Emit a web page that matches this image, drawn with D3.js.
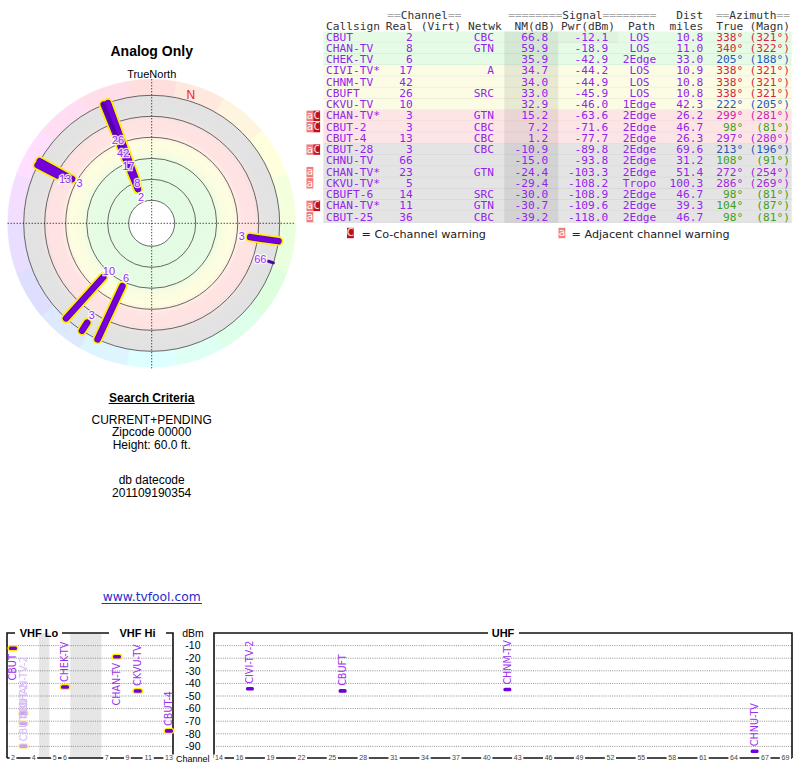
<!DOCTYPE html>
<html>
<head>
<meta charset="utf-8">
<title>Analog Only</title>
<script src="https://d3js.org/d3.v7.min.js"></script>
<style>
    body { margin: 0; background: #fff; }
</style>
</head>
<body>
<script>
    // station table
    const callsigns = ["CBUT", "CHAN-TV", "CHEK-TV", "CIVI-TV*", "CHNM-TV", "CBUFT", "CKVU-TV", "CHAN-TV*", "CBUT-2",
        "CBUT-4", "CBUT-28", "CHNU-TV", "CHAN-TV*", "CKVU-TV*", "CBUFT-6", "CHAN-TV*", "CBUT-25"];
    const realCh = [2, 8, 6, 17, 42, 26, 10, 3, 3, 13, 3, 66, 23, 5, 14, 11, 36];
    const netwk = ["CBC", "GTN", "", "A", "", "SRC", "", "GTN", "CBC", "CBC", "CBC", "", "GTN", "", "SRC", "GTN", "CBC"];
    const nm = [66.8, 59.9, 35.9, 34.7, 34.0, 33.0, 32.9, 15.2, 7.2, 1.2, -10.9, -15.0, -24.4, -29.4, -30.0, -30.7, -39.2];
    const pwr = [-12.1, -18.9, -42.9, -44.2, -44.9, -45.9, -46.0, -63.6, -71.6, -77.7, -89.8, -93.8, -103.3, -108.2, -108.9, -109.6, -118.0];
    const path = ["LOS", "LOS", "2Edge", "LOS", "LOS", "LOS", "1Edge", "2Edge", "2Edge", "2Edge", "2Edge", "2Edge", "2Edge", "Tropo", "2Edge", "2Edge", "2Edge"];
    const dist = [10.8, 11.0, 33.0, 10.9, 10.8, 10.8, 42.3, 26.2, 46.7, 26.3, 69.6, 31.2, 51.4, 100.3, 46.7, 39.3, 46.7];
    const azTrue = [338, 340, 205, 338, 338, 338, 222, 299, 98, 297, 213, 108, 272, 286, 98, 104, 98];
    const azMagn = [321, 322, 188, 321, 321, 321, 205, 281, 81, 280, 196, 91, 254, 269, 81, 87, 81];
    const warn = ["", "", "", "", "", "", "", "aC", "aC", "", "aC", "", "a", "a", "", "aC", "a"];
    const azGroup = ["red", "red", "blue", "red", "red", "red", "blue", "magenta", "green", "violet", "blue", "green",
        "violet", "violet", "green", "green", "green"];

    const vhfTicks = [2, 4, 5, 6, 7, 9, 11, 13];
    const uhfTicks = [14, 16, 19, 22, 25, 28, 31, 34, 37, 40, 43, 46, 49, 52, 55, 58, 61, 64, 67, 69];
    const dbmTicks = [-10, -20, -30, -40, -50, -60, -70, -80, -90];
    const ringLevels = [80, 60, 40, 20, 0, -20];

    const purple = "#9424ea";
    const azColors = {red: "#d02840", blue: "#1f58c0", magenta: "#cc1faa", green: "#3fa020", violet: "#a028d8"};
    const zoneColor = v => v >= 35 ? "#e6fbe6" : v >= 20 ? "#fbfce3" : v >= 0 ? "#fde5e5" : "#e4e4e4";

    const width = 800, height = 768;
    const svg = d3.select("body").append("svg")
        .attr("width", width)
        .attr("height", height)
        .style("font-family", "'Liberation Sans', Arial, sans-serif");
    const defs = svg.append("defs");

    // ---------------- radar plot ----------------
    const cx = 151.7, cy = 223.3;
    const r = d3.scaleLinear().domain([-20, 80]).range([128, 23]);
    const R = r(-20);
    const pt = (az, rad) => [cx + rad * Math.sin(az * Math.PI / 180), cy - rad * Math.cos(az * Math.PI / 180)];

    svg.append("text").attr("x", cx).attr("y", 56).attr("text-anchor", "middle")
        .style("font-size", "14px").style("font-weight", "bold").text("Analog Only");
    svg.append("text").attr("x", cx).attr("y", 77.5).attr("text-anchor", "middle")
        .style("font-size", "11px").text("TrueNorth");

    // outer compass ring
    const seg = d3.arc().innerRadius(R).outerRadius(R + 16);
    svg.append("g").attr("transform", `translate(${cx},${cy})`)
        .selectAll("path").data(d3.range(18)).join("path")
        .attr("d", k => seg({startAngle: (k * 20 - 10) * Math.PI / 180, endAngle: (k * 20 + 10) * Math.PI / 180}))
        .attr("fill", k => d3.hsl(k * 20, 1, 0.935).formatHex())
        .attr("stroke", k => d3.hsl(k * 20, 1, 0.935).formatHex())
        .attr("stroke-width", 0.5);

    const grad = defs.append("radialGradient").attr("id", "zones")
        .attr("gradientUnits", "userSpaceOnUse")
        .attr("cx", cx).attr("cy", cy).attr("r", R);
    [[80, "#e4fbe4"], [42, "#e6fce3"], [34, "#fbfde0"], [24, "#fefde0"], [16, "#ffe4e4"], [4, "#ffe2e2"],
        [-4, "#e3e3e3"], [-20, "#e2e2e2"]].forEach(s => {
        grad.append("stop").attr("offset", r(s[0]) / R).attr("stop-color", s[1]);
    });
    svg.append("circle").attr("cx", cx).attr("cy", cy).attr("r", R).attr("fill", "url(#zones)");

    svg.append("g").selectAll("circle").data(ringLevels).join("circle")
        .attr("cx", cx).attr("cy", cy).attr("r", d => r(d))
        .attr("fill", d => d === 80 ? "#fff" : "none")
        .attr("stroke", "#444").attr("stroke-width", 0.8);

    svg.append("line").attr("x1", cx - R - 16).attr("x2", cx + R + 16).attr("y1", cy).attr("y2", cy)
        .attr("stroke", "#000").attr("stroke-width", 1).attr("stroke-dasharray", "1,2");
    svg.append("line").attr("x1", cx).attr("x2", cx).attr("y1", cy - R - 16).attr("y2", cy + R + 17)
        .attr("stroke", "#000").attr("stroke-width", 1).attr("stroke-dasharray", "1,2");

    // magnetic north
    const nPos = pt(azTrue[0] - azMagn[0], R + 6);
    svg.append("text").attr("x", nPos[0]).attr("y", nPos[1]).attr("dy", "0.36em").attr("text-anchor", "middle")
        .style("font-size", "12px").attr("fill", "#ee2020").text("N");

    const shown = d3.range(callsigns.length).filter(i => nm[i] >= -20);
    const vhf = shown.filter(i => realCh[i] <= 13);
    const uhf = shown.filter(i => realCh[i] > 13);
    const barLine = (g, idx, color, w) => g.selectAll(null).data(idx).join("line")
        .attr("x1", i => pt(azTrue[i], r(nm[i]))[0]).attr("y1", i => pt(azTrue[i], r(nm[i]))[1])
        .attr("x2", i => pt(azTrue[i], R)[0]).attr("y2", i => pt(azTrue[i], R)[1])
        .attr("stroke", color).attr("stroke-width", w).attr("stroke-linecap", "round");

    const bars = svg.append("g");
    barLine(bars, vhf, "#ffee00", 10);
    barLine(bars, vhf, "#5a00b4", 6.5);
    barLine(bars, vhf, "#7400dc", 5);
    barLine(bars, uhf, "#5200a8", 3);

    // channel labels, pushed outward when they would collide
    const placed = [];
    shown.slice().sort((a, b) => r(nm[a]) - r(nm[b])).forEach(i => {
        let lr = r(nm[i]) - 8.5;
        placed.forEach(p => {
            if (Math.abs(azTrue[p.i] - azTrue[i]) < 6 && lr < p.lr + 14) lr = p.lr + 14;
        });
        placed.push({i: i, lr: lr});
    });
    svg.append("g").selectAll("text").data(placed).join("text")
        .attr("x", d => pt(azTrue[d.i], d.lr)[0])
        .attr("y", d => pt(azTrue[d.i], d.lr)[1])
        .attr("dy", "0.36em").attr("text-anchor", "middle")
        .style("font-size", "11px")
        .attr("fill", "#9a2cf0")
        .attr("stroke", "#fff").attr("stroke-width", 2.5).attr("stroke-opacity", 0.85)
        .attr("paint-order", "stroke")
        .text(d => realCh[d.i]);

    // ---------------- search criteria ----------------
    const info = svg.append("g").attr("text-anchor", "middle").style("font-size", "12px").attr("fill", "#000");
    info.append("text").attr("x", cx).attr("y", 401.5).style("font-weight", "bold").text("Search Criteria");
    info.append("line").attr("x1", cx - 43).attr("x2", cx + 43).attr("y1", 403.5).attr("y2", 403.5)
        .attr("stroke", "#000").attr("stroke-width", 1);
    info.append("text").attr("x", cx).attr("y", 423.5).text("CURRENT+PENDING");
    info.append("text").attr("x", cx).attr("y", 436).text("Zipcode 00000");
    info.append("text").attr("x", cx).attr("y", 448.5).text("Height: 60.0 ft.");
    info.append("text").attr("x", cx).attr("y", 484).text("db datecode");
    info.append("text").attr("x", cx).attr("y", 497).text("201109190354");

    svg.append("text").attr("x", cx).attr("y", 601).attr("text-anchor", "middle")
        .style("font-family", "'DejaVu Sans', sans-serif").style("font-size", "12.3px")
        .attr("fill", "#2a2acc").text("www.tvfool.com");
    svg.append("line").attr("x1", 101.5).attr("x2", 202).attr("y1", 603.5).attr("y2", 603.5)
        .attr("stroke", "#2a2acc").attr("stroke-width", 1);

    // ---------------- table ----------------
    const rowTop = 31.5, rowH = 11.25, rowX0 = 323.3, rowX1 = 791.7;
    const col = {call: 326, real: 412.7, netwk: 494, nm: 548.3, pwr: 608.3, path: 639.5, dist: 703.3, tru: 743.3, magn: 790};
    const tbl = svg.append("g").style("font-family", "'DejaVu Sans Mono', monospace").style("font-size", "11.2px");
    const rows = d3.range(callsigns.length);

    tbl.selectAll("rect.row").data(rows).join("rect").attr("class", "row")
        .attr("x", rowX0).attr("y", i => rowTop + i * rowH)
        .attr("width", rowX1 - rowX0).attr("height", rowH)
        .attr("fill", i => zoneColor(nm[i]));
    tbl.selectAll("line.sep").data(rows).join("line").attr("class", "sep")
        .attr("x1", rowX0).attr("x2", rowX1)
        .attr("y1", i => rowTop + (i + 1) * rowH - 0.5).attr("y2", i => rowTop + (i + 1) * rowH - 0.5)
        .attr("stroke", "#000").attr("stroke-opacity", 0.05);
    tbl.append("rect").attr("x", 504.3).attr("y", rowTop).attr("width", 54).attr("height", rows.length * rowH)
        .attr("fill", "#000").attr("fill-opacity", 0.075);
    tbl.append("rect").attr("x", 558.3).attr("y", rowTop).attr("width", 60).attr("height", rowH)
        .attr("fill", "#888").attr("fill-opacity", 0.07);

    const hdr = tbl.append("g").attr("fill", "#333");
    const eq = (g, x, anchor, pre, word, post) => {
        const t = g.append("text").attr("x", x).attr("y", 19).attr("text-anchor", anchor);
        t.append("tspan").attr("fill", "#aaa").text(pre);
        t.append("tspan").text(word);
        t.append("tspan").attr("fill", "#aaa").text(post);
    };
    eq(hdr, 387.3, "start", "==", "Channel", "==");
    eq(hdr, 508.3, "start", "========", "Signal", "========");
    hdr.append("text").attr("x", col.dist).attr("y", 19).attr("text-anchor", "end").text("Dist");
    eq(hdr, 790, "end", "==", "Azimuth", "==");
    [["Callsign", col.call, "start"], ["Real", col.real, "end"], ["(Virt)", 420.7, "start"], ["Netwk", 501.7, "end"],
        ["NM(dB)", 555, "end"], ["Pwr(dBm)", 615, "end"], ["Path", 655, "end"], ["miles", col.dist, "end"],
        ["True", col.tru, "end"], ["(Magn)", col.magn, "end"]].forEach(h => {
        hdr.append("text").attr("x", h[1]).attr("y", 29.5).attr("text-anchor", h[2]).text(h[0]);
    });

    const cell = (key, anchor, fmt, color) => tbl.append("g").selectAll("text").data(rows).join("text")
        .attr("x", col[key]).attr("y", i => rowTop + i * rowH + 9.2)
        .attr("text-anchor", anchor).attr("fill", color || purple).text(fmt);
    cell("call", "start", i => callsigns[i]);
    cell("real", "end", i => realCh[i]);
    cell("netwk", "end", i => netwk[i]);
    cell("nm", "end", i => nm[i].toFixed(1));
    cell("pwr", "end", i => pwr[i].toFixed(1));
    cell("path", "middle", i => path[i]);
    cell("dist", "end", i => dist[i].toFixed(1));
    tbl.append("g").selectAll("text").data(rows).join("text")
        .attr("x", col.tru).attr("y", i => rowTop + i * rowH + 9.2).attr("text-anchor", "end")
        .attr("fill", i => azColors[azGroup[i]]).text(i => azTrue[i] + "°");
    tbl.append("g").selectAll("text").data(rows).join("text")
        .attr("x", col.magn).attr("y", i => rowTop + i * rowH + 9.2).attr("text-anchor", "end")
        .attr("fill", i => azColors[azGroup[i]]).text(i => "(" + azMagn[i] + "°)");

    // warning badges
    const badge = (g, x, y, ch) => {
        g.append("rect").attr("x", x).attr("y", y).attr("width", 6.8).attr("height", 10.4)
            .attr("fill", ch === "a" ? "#f27c7c" : "#c0101c");
        g.append("text").attr("x", x + 3.4).attr("y", y + 8.4).attr("text-anchor", "middle")
            .attr("fill", ch === "a" ? "#fff" : "#ffe8e8").style("font-size", "10.5px").text(ch);
    };
    rows.forEach(i => {
        warn[i].split("").forEach(ch => badge(tbl, ch === "a" ? 306.5 : 313.3, rowTop + i * rowH + 0.4, ch));
    });

    const leg = svg.append("g").style("font-family", "'DejaVu Sans', sans-serif").style("font-size", "11.2px");
    badge(leg, 347, 227.8, "C");
    leg.append("text").attr("x", 361.5).attr("y", 237.5).attr("fill", "#222").text("= Co-channel warning");
    badge(leg, 558.5, 227.8, "a");
    leg.append("text").attr("x", 571.5).attr("y", 237.5).attr("fill", "#222").text("= Adjacent channel warning");

    // ---------------- spectrum chart ----------------
    const yB = d3.scaleLinear().domain([0, -100]).range([633, 759]);
    const vhfSlot = ch => ch <= 4 ? ch - 2 : ch <= 6 ? ch - 1 : ch + 2;
    const xV = d3.scaleLinear().domain([0, 15]).range([13, 169]);
    const xU = d3.scaleLinear().domain([14, 69]).range([219, 785.5]);
    const chX = ch => ch <= 13 ? xV(vhfSlot(ch)) : xU(ch);
    const panels = [[7, 173], [214, 792]];
    const bot = svg.append("g");

    // frequency gaps in VHF
    [[2.5, 3.5], [5.5, 8.5]].forEach(g => {
        bot.append("rect").attr("x", xV(g[0])).attr("y", yB(0)).attr("width", xV(g[1]) - xV(g[0]))
            .attr("height", yB(-99.5) - yB(0)).attr("fill", "#e6e6e6");
    });
    panels.forEach(p => {
        bot.append("g").selectAll("line").data(dbmTicks).join("line")
            .attr("x1", p[0]).attr("x2", p[1]).attr("y1", d => yB(d)).attr("y2", d => yB(d))
            .attr("stroke", "#777").attr("stroke-width", 0.8).attr("stroke-dasharray", "1,1.2");
    });

    const frame = "M7,758V633H15M62,633H109M166,633H173V758M214,758V633H488M519,633H792V758";
    bot.append("path").attr("d", frame).attr("fill", "none").attr("stroke", "#111").attr("stroke-width", 1.6);
    panels.forEach(p => {
        bot.append("line").attr("x1", p[0]).attr("x2", p[1]).attr("y1", 758).attr("y2", 758)
            .attr("stroke", "#111").attr("stroke-width", 1.4);
    });
    [["VHF Lo", 39], ["VHF Hi", 137.5], ["UHF", 503]].forEach(t => {
        bot.append("text").attr("x", t[1]).attr("y", 637).attr("text-anchor", "middle")
            .style("font-size", "11px").style("font-weight", "bold").text(t[0]);
    });

    bot.append("text").attr("x", 193).attr("y", 637).attr("text-anchor", "middle").style("font-size", "10.5px").text("dBm");
    bot.append("g").selectAll("text").data(dbmTicks).join("text")
        .attr("x", 200.5).attr("y", d => yB(d)).attr("dy", "0.36em").attr("text-anchor", "end")
        .style("font-size", "10.5px").text(d => d);
    bot.append("text").attr("x", 176).attr("y", 761.5).style("font-size", "9px").text("Channel");

    const tickLabels = (ticks, xf) => {
        const g = bot.append("g").selectAll("g").data(ticks).join("g")
            .attr("transform", d => `translate(${xf(d)},758)`);
        g.append("rect").attr("x", d => -String(d).length * 2.2 - 1.2).attr("y", -3.5)
            .attr("width", d => String(d).length * 4.4 + 2.4).attr("height", 7).attr("fill", "#fff");
        g.append("text").attr("text-anchor", "middle").attr("dy", "0.35em").attr("fill", "#444")
            .style("font-size", "7px").text(d => d);
    };
    tickLabels(vhfTicks, chX);
    tickLabels(uhfTicks, chX);

    // station markers
    const onChart = rows.filter(i => pwr[i] >= -100);
    const faded = i => warn[i].includes("C");
    const mk = bot.append("g");
    onChart.filter(i => realCh[i] <= 13).forEach(i => {
        mk.append("rect").attr("x", chX(realCh[i]) - 5.5).attr("y", yB(pwr[i]) - 3).attr("width", 11).attr("height", 6)
            .attr("rx", 3).attr("fill", faded(i) ? "#f8f0a6" : "#ffee00");
    });
    onChart.forEach(i => {
        mk.append("rect").attr("x", chX(realCh[i]) - 4).attr("y", yB(pwr[i]) - 1.8).attr("width", 8).attr("height", 3.6)
            .attr("rx", 1.5).attr("fill", faded(i) ? "#c8a2f2" : "#7000d8");
    });
    onChart.forEach(i => {
        const x = chX(realCh[i]) + 3.4, y = yB(pwr[i]);
        const t = mk.append("text").style("font-family", "'DejaVu Sans', sans-serif").style("font-size", "9.6px")
            .attr("fill", faded(i) ? "#d6b8f6" : "#9b30ee").text(callsigns[i].replace("*", "-2"));
        const len = t.node().getComputedTextLength();
        if (y - 5 - len >= 634) {
            t.attr("text-anchor", "start").attr("transform", `translate(${x},${y - 5}) rotate(-90)`);
        } else {
            t.attr("text-anchor", "end").attr("transform", `translate(${x},${y + 6}) rotate(-90)`);
        }
    });
</script>
</body>
</html>
